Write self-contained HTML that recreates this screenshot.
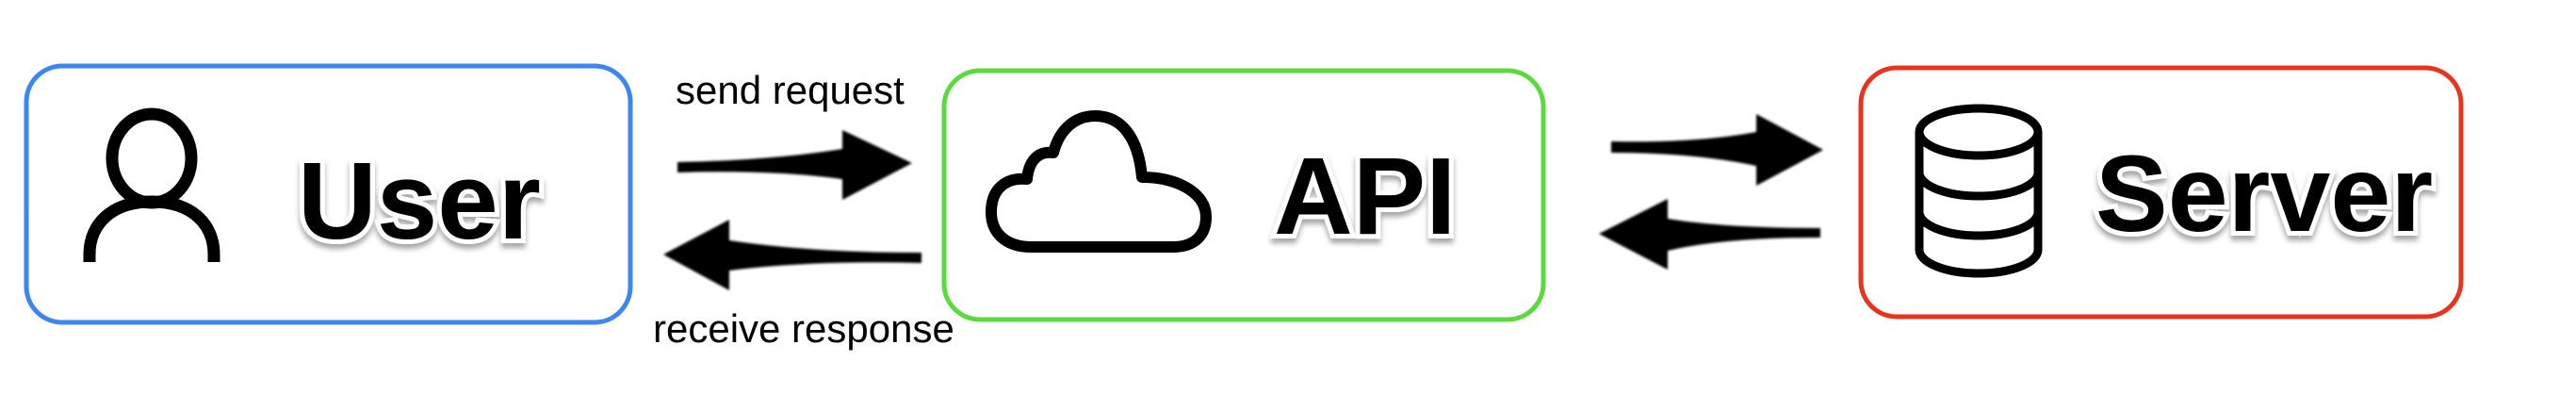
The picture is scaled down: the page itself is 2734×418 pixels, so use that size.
<!DOCTYPE html>
<html><head><meta charset="utf-8"><style>
html,body{margin:0;padding:0;background:#fff;}
svg{display:block;}
.big{font-family:"Liberation Sans",sans-serif;font-weight:bold;fill:#000;stroke:#fff;stroke-width:10px;paint-order:stroke;filter:url(#sh);}
.lbl{font-family:"Liberation Sans",sans-serif;font-size:42px;fill:#000;}
</style></head><body>
<svg width="2734" height="418" viewBox="0 0 2734 418" xmlns="http://www.w3.org/2000/svg">
<defs>
<filter id="sh" x="-10%" y="-20%" width="120%" height="150%">
<feDropShadow dx="0" dy="5" stdDeviation="3" flood-color="#000" flood-opacity="0.35"/>
</filter>
<filter id="bl"><feGaussianBlur stdDeviation="1.2"/></filter>
</defs>
<rect x="28" y="70" width="641" height="272" rx="38" fill="none" stroke="#3b86f0" stroke-width="5"/>
<rect x="1002" y="75" width="636" height="264" rx="38" fill="none" stroke="#5ada3c" stroke-width="5"/>
<rect x="1975" y="72" width="637" height="264" rx="38" fill="none" stroke="#e8341c" stroke-width="5"/>

<ellipse cx="161" cy="168" rx="42" ry="47" fill="none" stroke="#000" stroke-width="13"/>
<path d="M95,278 L95,270 C95,238 118,214 161,214 C204,214 227,238 227,270 L227,278" fill="none" stroke="#000" stroke-width="13"/>
<text class="big" x="316" y="253" font-size="116">User</text>

<path d="M1095,262 C1065,262 1052,245 1052,225 C1052,200 1068,188 1090,190 C1092,170 1102,160 1118,162 C1125,135 1143,123 1162,123 C1190,123 1208,145 1212,188 C1250,188 1280,205 1280,230 C1280,252 1265,262 1245,262 Z" fill="none" stroke="#000" stroke-width="12" stroke-linejoin="round"/>
<text class="big" x="1352" y="248" font-size="116">API</text>

<g fill="none" stroke="#000" stroke-width="9">
<ellipse cx="2100" cy="140" rx="63" ry="25"/>
<path d="M2037,140 L2037,265 A63,25 0 0 0 2163,265 L2163,140"/>
<path d="M2037,183 A63,25 0 0 0 2163,183"/>
<path d="M2037,225 A63,25 0 0 0 2163,225"/>
</g>
<text class="big" x="2224" y="245" font-size="115">Server</text>

<g fill="#000" filter="url(#bl)">
<path d="M719,172 Q820,170 894,158 L894,138 L968,173 L894,212 L894,190 Q820,180 719,183 Z"/>
<path d="M978,268 Q860,268 774,255 L774,233 L704,270 L774,308 L774,287 Q860,276 978,279 Z"/>
<path d="M1710,150 Q1800,152 1864,140 L1864,121 L1935,159 L1864,197 L1864,176 Q1800,162 1710,162 Z"/>
<path d="M1932,242 Q1830,242 1770,232 L1770,211 L1697,248 L1770,286 L1770,266 Q1830,252 1932,252 Z"/>
</g>

<text class="lbl" x="717" y="110">send request</text>
<text class="lbl" x="693" y="363">receive response</text>
</svg>
</body></html>
